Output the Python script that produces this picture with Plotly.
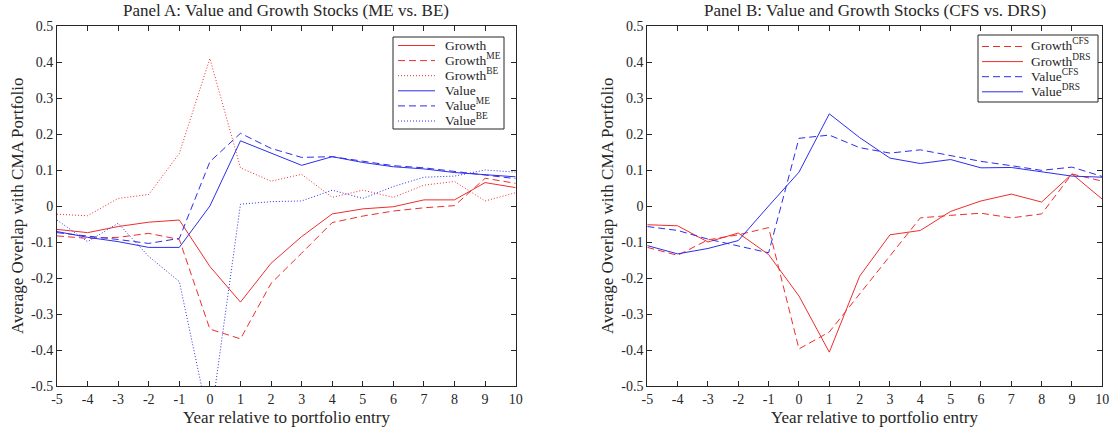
import plotly.graph_objects as go

# Event time (years relative to portfolio entry)
years = list(range(-5, 11))

# Panel A: value and growth stocks split by ME and BE
growth = [-0.065, -0.074, -0.057, -0.045, -0.039, -0.168, -0.267, -0.159, -0.085, -0.022, -0.008, -0.002, 0.017, 0.017, 0.065, 0.051]
growth_me = [-0.083, -0.090, -0.087, -0.076, -0.093, -0.342, -0.369, -0.215, -0.131, -0.046, -0.028, -0.014, -0.005, 0.001, 0.077, 0.063]
growth_be = [-0.023, -0.027, 0.021, 0.032, 0.146, 0.410, 0.106, 0.069, 0.088, 0.024, 0.044, 0.024, 0.058, 0.068, 0.014, 0.037]
value = [-0.071, -0.087, -0.099, -0.115, -0.115, 0.000, 0.181, 0.146, 0.113, 0.137, 0.121, 0.109, 0.103, 0.093, 0.088, 0.081]
value_me = [-0.074, -0.083, -0.093, -0.104, -0.090, 0.123, 0.202, 0.160, 0.135, 0.137, 0.124, 0.112, 0.106, 0.095, 0.086, 0.076]
value_be = [-0.039, -0.099, -0.048, -0.140, -0.210, -0.610, 0.005, 0.012, 0.014, 0.044, 0.021, 0.054, 0.080, 0.083, 0.100, 0.094]

# Panel B: value and growth stocks split by CFS and DRS
growth_cfs = [-0.115, -0.137, -0.094, -0.080, -0.060, -0.397, -0.350, -0.245, -0.140, -0.033, -0.026, -0.020, -0.033, -0.022, 0.089, 0.069]
growth_drs = [-0.052, -0.055, -0.100, -0.075, -0.135, -0.250, -0.406, -0.195, -0.080, -0.068, -0.015, 0.014, 0.033, 0.011, 0.089, 0.019]
value_cfs = [-0.057, -0.068, -0.092, -0.110, -0.130, 0.188, 0.197, 0.162, 0.147, 0.156, 0.140, 0.124, 0.112, 0.099, 0.108, 0.082]
value_drs = [-0.110, -0.133, -0.118, -0.096, 0.000, 0.094, 0.256, 0.190, 0.133, 0.118, 0.129, 0.106, 0.107, 0.096, 0.083, 0.080]

# Tick values and labels
x_ticks = list(range(-5, 11))
x_labels = [str(v) for v in x_ticks]
y_ticks = [-0.5, -0.4, -0.3, -0.2, -0.1, 0.0, 0.1, 0.2, 0.3, 0.4, 0.5]
y_labels = ["-0.5", "-0.4", "-0.3", "-0.2", "-0.1", "0", "0.1", "0.2", "0.3", "0.4", "0.5"]

RED = "rgb(238,45,45)"
BLUE = "rgb(45,45,235)"
AXIS = "#262626"
FONT = "Liberation Serif"
DASH = "7px,4px"
DOT = "1px,2px"

W, H = 1116, 432
ax_a = (57 / W, 515.7 / W)
ax_b = (647.3 / W, 1102.3 / W)
ax_y = (46 / H, 406 / H)

panel_a = [
    ("Growth", growth, RED, "solid"),
    ("Growth<sup>ME</sup>", growth_me, RED, DASH),
    ("Growth<sup>BE</sup>", growth_be, RED, DOT),
    ("Value", value, BLUE, "solid"),
    ("Value<sup>ME</sup>", value_me, BLUE, DASH),
    ("Value<sup>BE</sup>", value_be, BLUE, DOT),
]
panel_b = [
    ("Growth<sup>CFS</sup>", growth_cfs, RED, DASH),
    ("Growth<sup>DRS</sup>", growth_drs, RED, "solid"),
    ("Value<sup>CFS</sup>", value_cfs, BLUE, DASH),
    ("Value<sup>DRS</sup>", value_drs, BLUE, "solid"),
]

fig = go.Figure()
for series, xa, ya in ((panel_a, "x", "y"), (panel_b, "x2", "y2")):
    for name, ys, color, dash in series:
        fig.add_trace(go.Scatter(x=years, y=ys, mode="lines", name=name,
                                 line=dict(color=color, width=1, dash=dash),
                                 xaxis=xa, yaxis=ya, showlegend=False))

common_x = dict(range=[-5, 10], tickvals=x_ticks, ticktext=x_labels,
                ticks="inside", ticklen=5, tickcolor=AXIS, showline=True,
                linecolor=AXIS, linewidth=1, mirror="allticks", showgrid=False,
                zeroline=False, automargin=False,
                tickfont=dict(family=FONT, size=14, color=AXIS))
common_y = dict(range=[-0.5, 0.5], tickvals=y_ticks, ticktext=y_labels,
                ticks="inside", ticklen=5, tickcolor=AXIS, showline=True,
                linecolor=AXIS, linewidth=1, mirror="allticks", showgrid=False,
                zeroline=False, automargin=False,
                tickfont=dict(family=FONT, size=14, color=AXIS))

fig.update_layout(
    width=W, height=H,
    margin=dict(l=0, r=0, t=0, b=0, autoexpand=False),
    paper_bgcolor="white", plot_bgcolor="white",
    showlegend=False,
    xaxis=dict(domain=ax_a, anchor="y", **common_x),
    yaxis=dict(domain=ax_y, anchor="x", **common_y),
    xaxis2=dict(domain=ax_b, anchor="y2", **common_x),
    yaxis2=dict(domain=ax_y, anchor="x2", **common_y),
)


def px(x):
    return x / W


def py(y):
    return (H - y) / H


# Compact boxed legends in the upper-right corner of each panel
legend_boxes = [
    (panel_a, 393, 504, 37, 129, 398, 435, 443, 45.5, 15.1),
    (panel_b, 978, 1098, 35, 102, 982, 1023, 1029, 46.5, 15.1),
]
for series, x0, x1, y0, y1, s0, s1, tx, first_row, row_gap in legend_boxes:
    fig.add_shape(type="rect", xref="paper", yref="paper",
                  x0=px(x0), x1=px(x1), y0=py(y1), y1=py(y0),
                  line=dict(color=AXIS, width=1), fillcolor="white", layer="above")
    for i, (name, _, color, dash) in enumerate(series):
        yy = first_row + i * row_gap
        # an empty superscript keeps every entry's text box the same height
        label = name if "<sup>" in name else name + "<sup>&nbsp;</sup>"
        fig.add_shape(type="line", xref="paper", yref="paper",
                      x0=px(s0), x1=px(s1), y0=py(yy), y1=py(yy),
                      line=dict(color=color, width=1, dash=dash), layer="above")
        fig.add_annotation(text=label, x=px(tx), y=py(yy - 1.5), xref="paper", yref="paper",
                           showarrow=False, xanchor="left", yanchor="middle",
                           font=dict(family=FONT, size=13.5, color=AXIS))

titles = [
    ("Panel A: Value and Growth Stocks (ME vs. BE)", sum(ax_a) / 2),
    ("Panel B: Value and Growth Stocks (CFS vs. DRS)", sum(ax_b) / 2),
]
for text, xc in titles:
    fig.add_annotation(text=text, x=xc, y=py(11), xref="paper", yref="paper",
                       showarrow=False, xanchor="center", yanchor="middle",
                       font=dict(family=FONT, size=17, color=AXIS))

for xc in (sum(ax_a) / 2, sum(ax_b) / 2):
    fig.add_annotation(text="Year relative to portfolio entry", x=xc, y=py(417),
                       xref="paper", yref="paper", showarrow=False,
                       xanchor="center", yanchor="middle",
                       font=dict(family=FONT, size=17, color=AXIS))

for xl in (17, 607):
    fig.add_annotation(text="Average Overlap with CMA Portfolio", x=px(xl), y=sum(ax_y) / 2,
                       xref="paper", yref="paper", showarrow=False, textangle=-90,
                       xanchor="center", yanchor="middle",
                       font=dict(family=FONT, size=17, color=AXIS))

fig.write_html("out.html")
